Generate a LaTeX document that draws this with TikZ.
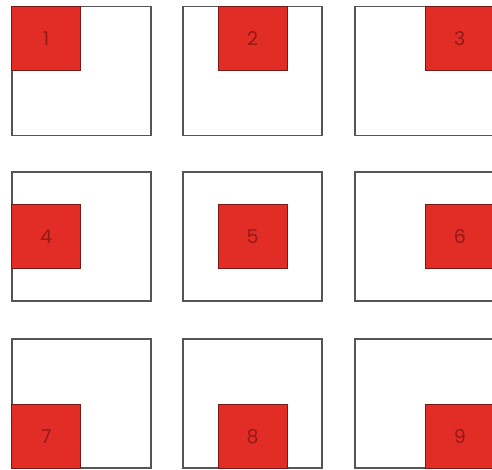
\documentclass[tikz,border=0pt]{standalone}
\usepackage{fontspec}
\setmainfont{Poppins}
\definecolor{cellline}{RGB}{85,85,85}
\definecolor{sqfill}{RGB}{226,44,38}
\definecolor{sqline}{RGB}{120,25,22}
\definecolor{sqtext}{RGB}{150,25,22}
\begin{document}
\begin{tikzpicture}[x=1pt, y=-1pt,
  cell/.style={draw=cellline,line width=1.4pt,fill=white,minimum width=139pt,minimum height=129pt,inner sep=0pt},
  sq/.style={draw=sqline,line width=0.8pt,fill=sqfill,minimum width=69pt,minimum height=64pt,inner sep=0pt,text=sqtext,font=\fontsize{19}{19}\selectfont}]
\useasboundingbox (0,0) rectangle (492,470);
% outer cells
\node[cell] (cell1) at (81.5,71) {};
\node[cell] (cell2) at (252.5,71) {};
\node[cell] (cell3) at (424.5,71) {};
\node[cell] (cell4) at (81.5,236.5) {};
\node[cell] (cell5) at (252.5,236.5) {};
\node[cell] (cell6) at (424.5,236.5) {};
\node[cell] (cell7) at (81.5,403.5) {};
\node[cell] (cell8) at (252.5,403.5) {};
\node[cell] (cell9) at (424.5,403.5) {};
% red squares
\node[sq,anchor=north west] (sq1) at (cell1.north west) {1};
\node[sq,anchor=north] (sq2) at (cell2.north) {2};
\node[sq,anchor=north east] (sq3) at (cell3.north east) {3};
\node[sq,anchor=west] (sq4) at (cell4.west) {4};
\node[sq] (sq5) at (cell5.center) {5};
\node[sq,anchor=east] (sq6) at (cell6.east) {6};
\node[sq,anchor=south west] (sq7) at (cell7.south west) {7};
\node[sq,anchor=south] (sq8) at (cell8.south) {8};
\node[sq,anchor=south east] (sq9) at (cell9.south east) {9};
\end{tikzpicture}
\end{document}
